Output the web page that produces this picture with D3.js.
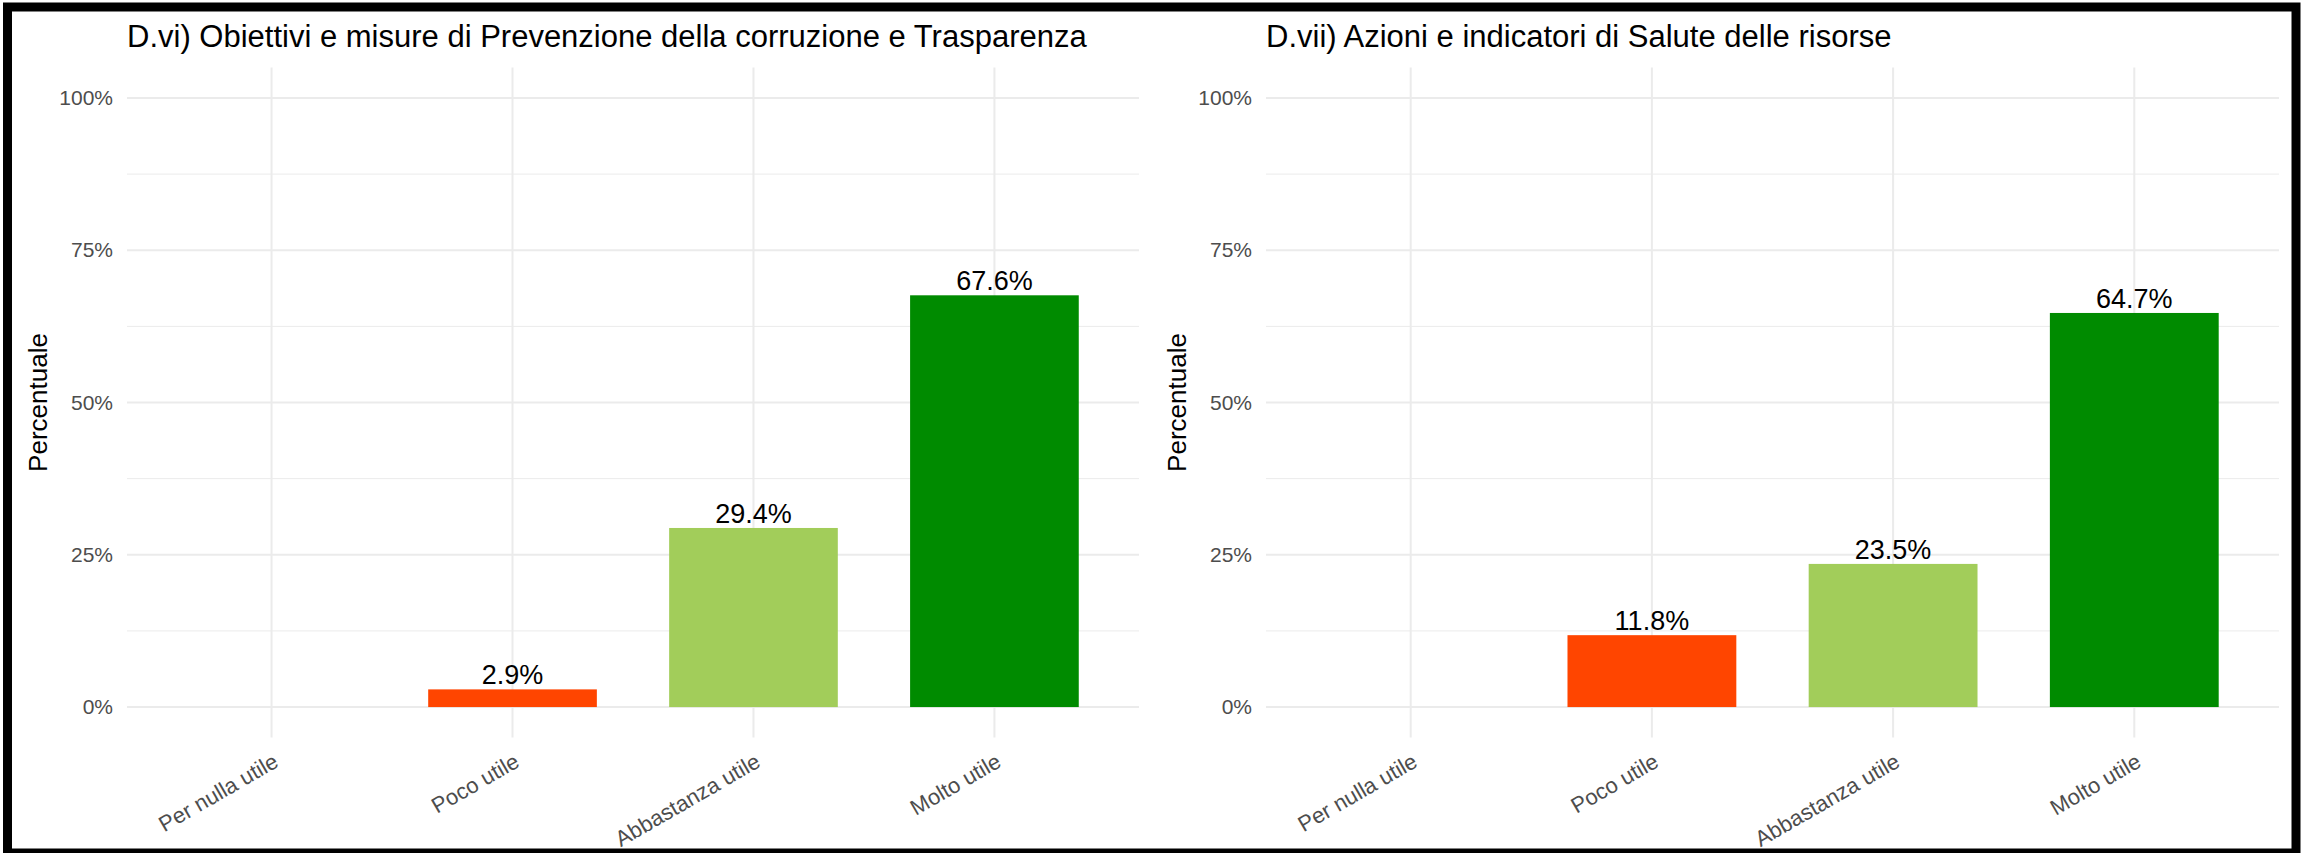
<!DOCTYPE html>
<html>
<head>
<meta charset="utf-8">
<script src="https://cdn.jsdelivr.net/npm/d3@7"></script>
<style>
  body { margin: 0; background: #fff; }
  text { font-family: "Liberation Sans", Arial, sans-serif; }
</style>
</head>
<body>
<script>
// categories shared by both panels
let categories = ['Per nulla utile', 'Poco utile', 'Abbastanza utile', 'Molto utile'];
let barColors = ['#999999', '#FF4500', '#A2CD5A', '#008B00'];

let titleLeft = 'D.vi) Obiettivi e misure di Prevenzione della corruzione e Trasparenza';
let titleRight = 'D.vii) Azioni e indicatori di Salute delle risorse';

// percent values
let valuesLeft = [0, 2.9, 29.4, 67.6];
let valuesRight = [0, 11.8, 23.5, 64.7];

let yTicks = [0, 25, 50, 75, 100];
let yMinor = [12.5, 37.5, 62.5, 87.5];
let yLabel = 'Percentuale';

let width = 2305;
let height = 853;

let svg = d3.select(document.body).append('svg')
  .attr('width', width)
  .attr('height', height);

function drawPanel(title, values, left, right) {
  let top = 67.5;
  let bottom = 737.5;

  let x = d3.scaleBand()
    .domain(categories)
    .range([left, right])
    .paddingInner(0.3)
    .paddingOuter(0.25);

  let y = d3.scaleLinear()
    .domain([-5, 105])
    .range([bottom, top]);

  let g = svg.append('g');

  // grid
  g.selectAll('line.minor')
    .data(yMinor)
    .join('line')
      .attr('class', 'minor')
      .attr('x1', left).attr('x2', right)
      .attr('y1', d => y(d)).attr('y2', d => y(d))
      .attr('stroke', '#EBEBEB')
      .attr('stroke-width', 1);

  g.selectAll('line.major')
    .data(yTicks)
    .join('line')
      .attr('class', 'major')
      .attr('x1', left).attr('x2', right)
      .attr('y1', d => y(d)).attr('y2', d => y(d))
      .attr('stroke', '#EBEBEB')
      .attr('stroke-width', 2);

  g.selectAll('line.vgrid')
    .data(categories)
    .join('line')
      .attr('class', 'vgrid')
      .attr('x1', d => x(d) + x.bandwidth() / 2)
      .attr('x2', d => x(d) + x.bandwidth() / 2)
      .attr('y1', top).attr('y2', bottom)
      .attr('stroke', '#EBEBEB')
      .attr('stroke-width', 2);

  let data = categories.map((c, i) => ({ cat: c, value: values[i], color: barColors[i] }))
    .filter(d => d.value > 0);

  // bars
  g.selectAll('rect.bar')
    .data(data)
    .join('rect')
      .attr('class', 'bar')
      .attr('x', d => x(d.cat))
      .attr('width', x.bandwidth())
      .attr('y', d => y(d.value))
      .attr('height', d => y(0) - y(d.value))
      .attr('fill', d => d.color);

  // value labels
  g.selectAll('text.val')
    .data(data)
    .join('text')
      .attr('class', 'val')
      .attr('x', d => x(d.cat) + x.bandwidth() / 2)
      .attr('y', d => y(d.value) - 5)
      .attr('text-anchor', 'middle')
      .style('font-size', '27px')
      .attr('fill', '#000')
      .text(d => d.value.toFixed(1) + '%');

  // y axis
  let yAxis = g.append('g')
    .attr('transform', `translate(${left},0)`)
    .call(d3.axisLeft(y).tickValues(yTicks).tickFormat(d => d + '%').tickSize(0).tickPadding(14));
  yAxis.select('.domain').remove();
  yAxis.selectAll('text')
    .style('font-size', '21px')
    .style('font-family', '"Liberation Sans", Arial, sans-serif')
    .attr('fill', '#4D4D4D');

  // x labels, rotated
  g.selectAll('text.xlab')
    .data(categories)
    .join('text')
      .attr('class', 'xlab')
      .attr('transform', d => `translate(${x(d) + x.bandwidth() / 2},${bottom + 14}) rotate(-30)`)
      .attr('text-anchor', 'end')
      .attr('dy', '0.75em')
      .style('font-size', '22px')
      .attr('fill', '#4D4D4D')
      .text(d => d);

  // y title
  g.append('text')
    .attr('transform', `translate(${left - 80},${(top + bottom) / 2}) rotate(-90)`)
    .attr('text-anchor', 'middle')
    .style('font-size', '26px')
    .attr('fill', '#000')
    .text(yLabel);

  // title
  g.append('text')
    .attr('x', left)
    .attr('y', 47)
    .style('font-size', '31px')
    .attr('fill', '#000')
    .text(title);
}

drawPanel(titleLeft, valuesLeft, 127, 1139);
drawPanel(titleRight, valuesRight, 1266, 2279);

// black frame
svg.append('rect')
  .attr('x', 7.5)
  .attr('y', 7)
  .attr('width', 2288.5)
  .attr('height', 846)
  .attr('fill', 'none')
  .attr('stroke', '#000')
  .attr('stroke-width', 9);
</script>
</body>
</html>
